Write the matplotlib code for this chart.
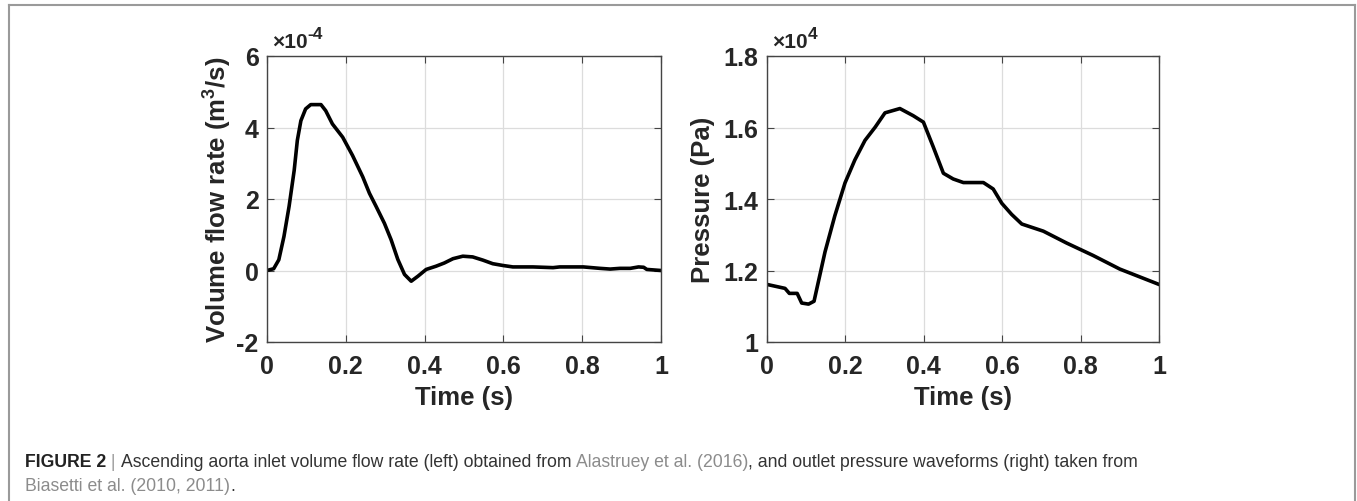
import numpy as np
import matplotlib
matplotlib.use('Agg')
import matplotlib.pyplot as plt
from matplotlib.lines import Line2D

plt.rcParams['font.family'] = ['Liberation Sans', 'DejaVu Sans']
plt.rcParams['axes.unicode_minus'] = False
plt.rcParams['mathtext.fontset'] = 'custom'
plt.rcParams['mathtext.rm'] = 'Liberation Sans:bold'
plt.rcParams['mathtext.it'] = 'Liberation Sans:bold'
plt.rcParams['mathtext.bf'] = 'Liberation Sans:bold'

# inlet volume flow rate, values in units of 1e-4 m^3/s
flow_t = [0.0, 0.017, 0.03, 0.043, 0.056, 0.069, 0.077, 0.086, 0.098, 0.111, 0.137,
          0.149, 0.166, 0.192, 0.217, 0.243, 0.26, 0.277, 0.298, 0.315, 0.332, 0.349,
          0.366, 0.383, 0.404, 0.429, 0.45, 0.472, 0.497, 0.522, 0.548, 0.573, 0.599,
          0.624, 0.675, 0.726, 0.743, 0.803, 0.845, 0.871, 0.896, 0.922, 0.943, 0.956,
          0.964, 1.0]
flow_q = [0.0, 0.05, 0.3, 0.95, 1.79, 2.8, 3.64, 4.19, 4.52, 4.64, 4.64,
          4.47, 4.10, 3.73, 3.22, 2.62, 2.16, 1.79, 1.32, 0.86, 0.31, -0.11,
          -0.30, -0.16, 0.03, 0.12, 0.21, 0.33, 0.40, 0.38, 0.29, 0.19, 0.14,
          0.10, 0.10, 0.08, 0.10, 0.10, 0.06, 0.04, 0.06, 0.06, 0.10, 0.09,
          0.03, 0.0]

# outlet pressure, values in units of 1e4 Pa
pres_t = [0.0, 0.046, 0.057, 0.077, 0.0885, 0.106, 0.12, 0.148, 0.173, 0.199, 0.224,
          0.25, 0.276, 0.301, 0.339, 0.373, 0.399, 0.424, 0.45, 0.475, 0.501, 0.552,
          0.577, 0.599, 0.624, 0.65, 0.705, 0.764, 0.832, 0.9, 1.0]
pres_p = [1.161, 1.150, 1.136, 1.136, 1.109, 1.106, 1.114, 1.252, 1.353, 1.445, 1.509,
          1.564, 1.601, 1.641, 1.653, 1.633, 1.615, 1.546, 1.472, 1.456, 1.446, 1.446,
          1.428, 1.388, 1.357, 1.330, 1.310, 1.277, 1.242, 1.204, 1.161]

x_ticks = [0, 0.2, 0.4, 0.6, 0.8, 1]
x_labels = ['0', '0.2', '0.4', '0.6', '0.8', '1']
flow_ticks = [-2, 0, 2, 4, 6]
pres_ticks = [1, 1.2, 1.4, 1.6, 1.8]
pres_labels = ['1', '1.2', '1.4', '1.6', '1.8']

W, H = 1357, 502
fig = plt.figure(figsize=(W / 100, H / 100), dpi=100)
txt = '#262626'
tick_fs = 18
label_fs = 18.5

ax1 = fig.add_axes([267 / W, 1 - 343 / H, 394 / W, 286 / H])
ax2 = fig.add_axes([767 / W, 1 - 343 / H, 392 / W, 286 / H])

def style(ax):
    ax.grid(True, color='#dcdcdc', linewidth=0.9)
    ax.set_axisbelow(True)
    for s in ax.spines.values():
        s.set_color('#444444')
        s.set_linewidth(1.0)
    ax.tick_params(direction='in', length=5, width=0.8, color='#444444',
                   top=True, right=True, labelsize=tick_fs, labelcolor=txt)
    ax.tick_params(axis='x', pad=9)
    ax.tick_params(axis='y', pad=6)
    for lab in ax.get_xticklabels() + ax.get_yticklabels():
        lab.set_fontweight('bold')
    ax.set_xlim(0, 1)
    ax.set_xlabel('Time (s)', fontsize=label_fs, fontweight='bold', color=txt, labelpad=5)

def exponent(ax, power):
    base = ax.text(0.012, 1.03, '×10', transform=ax.transAxes, fontsize=15,
                   fontweight='bold', color=txt, va='baseline')
    ax.annotate(power, xy=(1, 0.55), xycoords=base, fontsize=12.5, fontweight='bold',
                color=txt, va='bottom', ha='left', annotation_clip=False)

ax1.plot(flow_t, flow_q, color='black', linewidth=2.6)
ax1.set_ylim(-2, 6)
ax1.set_yticks(flow_ticks)
ax1.set_yticklabels([str(v) for v in flow_ticks])
ax1.set_xticks(x_ticks)
ax1.set_xticklabels(x_labels)
style(ax1)
ax1.set_ylabel('Volume flow rate (m$^3$/s)', fontsize=label_fs, fontweight='bold',
               color=txt, labelpad=2)
exponent(ax1, '-4')

ax2.plot(pres_t, pres_p, color='black', linewidth=2.6)
ax2.set_ylim(1, 1.8)
ax2.set_yticks(pres_ticks)
ax2.set_yticklabels(pres_labels)
ax2.set_xticks(x_ticks)
ax2.set_xticklabels(x_labels)
style(ax2)
ax2.set_ylabel('Pressure (Pa)', fontsize=label_fs, fontweight='bold', color=txt, labelpad=6)
exponent(ax2, '4')

# frame around the figure panel
fc = '#9a9a9a'
fig.add_artist(Line2D([9 / W, 9 / W], [0, 1 - 6 / H], color=fc, linewidth=1.5))
fig.add_artist(Line2D([9 / W, 1355 / W], [1 - 6 / H, 1 - 6 / H], color=fc, linewidth=1.5))
fig.add_artist(Line2D([1355 / W, 1355 / W], [0, 1 - 6 / H], color=fc, linewidth=1.5))

# caption, pieces chained one after another
cap_size = 12.7
dark = '#333333'
link = '#8c8c8c'
line1 = [('FIGURE 2', 'bold', '#222222'), (' | ', 'normal', '#999999'),
         ('Ascending aorta inlet volume flow rate (left) obtained from ', 'normal', dark),
         ('Alastruey et al. (2016)', 'normal', link),
         (', and outlet pressure waveforms (right) taken from', 'normal', dark)]
line2 = [('Biasetti et al. (2010, 2011)', 'normal', link), ('.', 'normal', dark)]

def caption_line(pieces, y):
    prev = fig.text(25 / W, y, pieces[0][0], fontsize=cap_size, fontweight=pieces[0][1],
                    color=pieces[0][2], va='bottom')
    for s, w, c in pieces[1:]:
        prev = ax1.annotate(s, xy=(1, 0), xycoords=prev, va='bottom', ha='left',
                            fontsize=cap_size, fontweight=w, color=c, annotation_clip=False)

caption_line(line1, 1 - 471 / H)
caption_line(line2, 1 - 495 / H)

fig.savefig('out.png', dpi=100)
